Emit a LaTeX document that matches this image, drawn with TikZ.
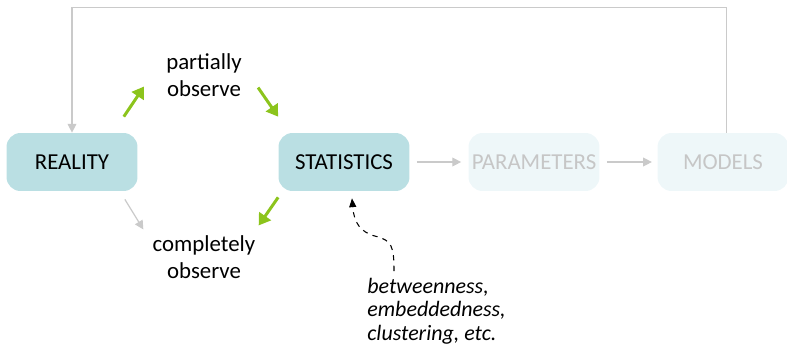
\documentclass[tikz,border=0pt]{standalone}
\usepackage{fontspec}
\setmainfont{Carlito}
\usetikzlibrary{arrows.meta,calc}
\definecolor{boxfill}{HTML}{BADFE3}
\definecolor{fadefill}{HTML}{EEF7F9}
\definecolor{fadetext}{HTML}{C6C6C6}
\definecolor{leaf}{HTML}{8CC41C}
\definecolor{wire}{HTML}{CACACA}

\begin{document}
\begin{tikzpicture}[
    x=0.02cm, y=0.02cm,
    font=\fontsize{13}{15}\selectfont,
    stage/.style={fill=boxfill, rounded corners=0.28cm, minimum width=2.62cm,
        minimum height=1.16cm, inner sep=0pt},
    fadestage/.style={stage, fill=fadefill, text=fadetext},
    label/.style={align=center, inner sep=0pt},
    note/.style={align=left, inner sep=0pt, font=\itshape\fontsize{12.5}{13.3}\selectfont},
    greenarrow/.style={draw=leaf, line width=1.7pt, -{Triangle[length=6.5pt,width=8pt]}},
    grayarrow/.style={draw=wire, line width=0.7pt, -{Triangle[length=5pt,width=5pt]}},
    dasharrow/.style={draw=black, line width=0.6pt, dashed, -{Triangle[length=5pt,width=4pt]}}
]
\useasboundingbox (0,0) rectangle (787,346);

% Pipeline boxes.
\node[stage] (reality) at (72,184) {REALITY};
\node[stage] (stats) at (344,184) {STATISTICS};
\node[fadestage] (params) at (534,184) {PARAMETERS};
\node[fadestage] (models) at (723,184) {MODELS};

% Observation labels.
\node[label] (partial) at (204,271) {partially\\observe};
\node[label] (complete) at (204,89) {completely\\observe};
\node[note, anchor=north west] (metrics) at (367,68)
    {betweenness,\\embeddedness,\\clustering, etc.};

% Green path via partial observation.
\draw[greenarrow] ([shift={(-14,16)}]reality.north east) -- ([shift={(-22,10)}]partial.south west);
\draw[greenarrow] ([shift={(16,9)}]partial.south east) -- ([shift={(0,16)}]stats.north west);
\draw[greenarrow] ([shift={(0,-6)}]stats.south west) -- ([shift={(3,10)}]complete.north east);
\draw[grayarrow] ([shift={(-13,-8)}]reality.south east) -- ([shift={(-9,6)}]complete.north west);

% Faded continuation and feedback loop.
\draw[grayarrow, shorten <=4pt, shorten >=4pt] (stats) -- (params);
\draw[grayarrow, shorten <=4pt, shorten >=3pt] (params) -- (models);
\draw[grayarrow] ([xshift=2]models.north) -- ++(0,125) -| (reality.north);

% Measures that feed the statistics.
\draw[dasharrow] ([shift={(27,7)}]metrics.north west)
    .. controls +(0,24) and +(16,-4) .. ($(stats.south)+(32,-45)$)
    .. controls +(-16,4) and +(2,-24) .. ([shift={(8,-7)}]stats.south);
\end{tikzpicture}
\end{document}
